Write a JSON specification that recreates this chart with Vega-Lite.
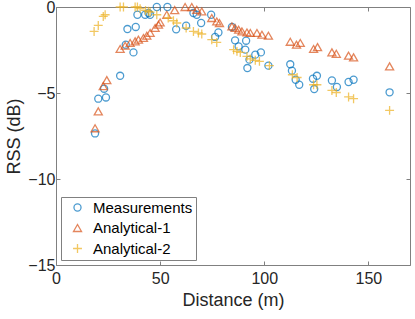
{
  "$schema": "https://vega.github.io/schema/vega-lite/v6.json",
  "width": 354,
  "height": 258,
  "autosize": "none",
  "padding": {"left": 56, "top": 7, "right": 5, "bottom": 54},
  "background": "white",
  "config": {
    "view": {"stroke": null},
    "font": "Liberation Sans",
    "axis": {
      "domainColor": "#808080",
      "tickColor": "#808080",
      "labelColor": "#262626",
      "titleColor": "#262626",
      "labelFont": "Liberation Sans",
      "titleFont": "Liberation Sans",
      "labelFontSize": 16,
      "titleFontSize": 18,
      "titleFontWeight": "normal",
      "grid": false,
      "tickSize": -4
    }
  },
  "data": {
    "values": [
      {"series": "Measurements", "d": 18.75, "rss": -7.35},
      {"series": "Measurements", "d": 20.3, "rss": -5.33},
      {"series": "Measurements", "d": 23.1, "rss": -4.75},
      {"series": "Measurements", "d": 24.0, "rss": -5.26},
      {"series": "Measurements", "d": 30.8, "rss": -4.0},
      {"series": "Measurements", "d": 33.5, "rss": -2.19},
      {"series": "Measurements", "d": 34.3, "rss": -1.28},
      {"series": "Measurements", "d": 37.2, "rss": -2.64},
      {"series": "Measurements", "d": 38.3, "rss": -1.16},
      {"series": "Measurements", "d": 39.1, "rss": -0.45},
      {"series": "Measurements", "d": 42.8, "rss": -0.45},
      {"series": "Measurements", "d": 44.4, "rss": -0.35},
      {"series": "Measurements", "d": 45.2, "rss": -0.45},
      {"series": "Measurements", "d": 48.4, "rss": 0.0},
      {"series": "Measurements", "d": 53.5, "rss": 0.0},
      {"series": "Measurements", "d": 57.7, "rss": -1.3},
      {"series": "Measurements", "d": 62.5, "rss": -1.09},
      {"series": "Measurements", "d": 66.0, "rss": -0.35},
      {"series": "Measurements", "d": 67.6, "rss": -0.45},
      {"series": "Measurements", "d": 69.7, "rss": -0.93},
      {"series": "Measurements", "d": 74.5, "rss": -0.45},
      {"series": "Measurements", "d": 76.4, "rss": -1.74},
      {"series": "Measurements", "d": 78.0, "rss": -1.48},
      {"series": "Measurements", "d": 84.5, "rss": -1.16},
      {"series": "Measurements", "d": 86.0, "rss": -1.94},
      {"series": "Measurements", "d": 87.7, "rss": -2.29},
      {"series": "Measurements", "d": 90.9, "rss": -2.48},
      {"series": "Measurements", "d": 91.3, "rss": -1.96},
      {"series": "Measurements", "d": 91.9, "rss": -3.55},
      {"series": "Measurements", "d": 92.9, "rss": -3.06},
      {"series": "Measurements", "d": 95.7, "rss": -2.77},
      {"series": "Measurements", "d": 98.4, "rss": -2.64},
      {"series": "Measurements", "d": 102.0, "rss": -3.41},
      {"series": "Measurements", "d": 112.5, "rss": -3.33},
      {"series": "Measurements", "d": 113.3, "rss": -3.7},
      {"series": "Measurements", "d": 115.1, "rss": -4.23},
      {"series": "Measurements", "d": 116.8, "rss": -4.52},
      {"series": "Measurements", "d": 123.4, "rss": -4.17},
      {"series": "Measurements", "d": 124.0, "rss": -4.77},
      {"series": "Measurements", "d": 125.3, "rss": -4.0},
      {"series": "Measurements", "d": 132.5, "rss": -4.27},
      {"series": "Measurements", "d": 134.9, "rss": -4.65},
      {"series": "Measurements", "d": 140.5, "rss": -4.36},
      {"series": "Measurements", "d": 142.9, "rss": -4.23},
      {"series": "Measurements", "d": 160.2, "rss": -4.96},
      {"series": "Analytical-1", "d": 18.75, "rss": -7.05},
      {"series": "Analytical-1", "d": 20.3, "rss": -6.07},
      {"series": "Analytical-1", "d": 22.7, "rss": -4.6},
      {"series": "Analytical-1", "d": 24.4, "rss": -4.25},
      {"series": "Analytical-1", "d": 30.8, "rss": -2.44},
      {"series": "Analytical-1", "d": 33.2, "rss": -2.25},
      {"series": "Analytical-1", "d": 35.6, "rss": -2.09},
      {"series": "Analytical-1", "d": 38.0, "rss": -2.0},
      {"series": "Analytical-1", "d": 39.6, "rss": -1.9},
      {"series": "Analytical-1", "d": 42.0, "rss": -1.8},
      {"series": "Analytical-1", "d": 43.6, "rss": -1.67},
      {"series": "Analytical-1", "d": 45.2, "rss": -1.51},
      {"series": "Analytical-1", "d": 47.6, "rss": -1.22},
      {"series": "Analytical-1", "d": 49.2, "rss": -1.03},
      {"series": "Analytical-1", "d": 50.0, "rss": -0.9},
      {"series": "Analytical-1", "d": 53.2, "rss": -0.45},
      {"series": "Analytical-1", "d": 57.0, "rss": -0.18},
      {"series": "Analytical-1", "d": 62.0, "rss": 0.0},
      {"series": "Analytical-1", "d": 65.2, "rss": 0.0},
      {"series": "Analytical-1", "d": 67.6, "rss": -0.16},
      {"series": "Analytical-1", "d": 70.0, "rss": -0.26},
      {"series": "Analytical-1", "d": 74.8, "rss": -0.64},
      {"series": "Analytical-1", "d": 77.2, "rss": -0.84},
      {"series": "Analytical-1", "d": 78.5, "rss": -0.93},
      {"series": "Analytical-1", "d": 84.5, "rss": -1.13},
      {"series": "Analytical-1", "d": 86.0, "rss": -1.22},
      {"series": "Analytical-1", "d": 87.7, "rss": -1.32},
      {"series": "Analytical-1", "d": 89.3, "rss": -1.42},
      {"series": "Analytical-1", "d": 91.7, "rss": -1.48},
      {"series": "Analytical-1", "d": 93.3, "rss": -1.51},
      {"series": "Analytical-1", "d": 96.5, "rss": -1.51},
      {"series": "Analytical-1", "d": 98.9, "rss": -1.61},
      {"series": "Analytical-1", "d": 102.0, "rss": -1.67},
      {"series": "Analytical-1", "d": 112.5, "rss": -2.02},
      {"series": "Analytical-1", "d": 115.5, "rss": -2.19},
      {"series": "Analytical-1", "d": 117.3, "rss": -2.09},
      {"series": "Analytical-1", "d": 123.7, "rss": -2.44},
      {"series": "Analytical-1", "d": 125.6, "rss": -2.33},
      {"series": "Analytical-1", "d": 132.5, "rss": -2.64},
      {"series": "Analytical-1", "d": 134.6, "rss": -2.72},
      {"series": "Analytical-1", "d": 140.5, "rss": -2.83},
      {"series": "Analytical-1", "d": 142.9, "rss": -2.93},
      {"series": "Analytical-1", "d": 160.2, "rss": -3.45},
      {"series": "Analytical-2", "d": 18.3, "rss": -1.42},
      {"series": "Analytical-2", "d": 20.3, "rss": -1.07},
      {"series": "Analytical-2", "d": 22.7, "rss": -0.55},
      {"series": "Analytical-2", "d": 23.6, "rss": -0.45},
      {"series": "Analytical-2", "d": 30.8, "rss": 0.0},
      {"series": "Analytical-2", "d": 32.4, "rss": 0.0},
      {"series": "Analytical-2", "d": 38.0, "rss": 0.0},
      {"series": "Analytical-2", "d": 39.1, "rss": 0.0},
      {"series": "Analytical-2", "d": 40.4, "rss": -0.1},
      {"series": "Analytical-2", "d": 43.0, "rss": -0.2},
      {"series": "Analytical-2", "d": 44.4, "rss": -0.25},
      {"series": "Analytical-2", "d": 45.2, "rss": -0.3},
      {"series": "Analytical-2", "d": 48.4, "rss": -0.45},
      {"series": "Analytical-2", "d": 53.9, "rss": -0.64},
      {"series": "Analytical-2", "d": 56.4, "rss": -0.8},
      {"series": "Analytical-2", "d": 58.0, "rss": -0.93},
      {"series": "Analytical-2", "d": 62.5, "rss": -1.22},
      {"series": "Analytical-2", "d": 66.0, "rss": -1.42},
      {"series": "Analytical-2", "d": 68.4, "rss": -1.51},
      {"series": "Analytical-2", "d": 70.0, "rss": -1.57},
      {"series": "Analytical-2", "d": 74.8, "rss": -1.9},
      {"series": "Analytical-2", "d": 77.2, "rss": -2.06},
      {"series": "Analytical-2", "d": 85.3, "rss": -2.48},
      {"series": "Analytical-2", "d": 86.9, "rss": -2.58},
      {"series": "Analytical-2", "d": 88.5, "rss": -2.64},
      {"series": "Analytical-2", "d": 91.7, "rss": -2.87},
      {"series": "Analytical-2", "d": 93.3, "rss": -3.02},
      {"series": "Analytical-2", "d": 95.7, "rss": -3.1},
      {"series": "Analytical-2", "d": 97.7, "rss": -3.16},
      {"series": "Analytical-2", "d": 102.5, "rss": -3.41},
      {"series": "Analytical-2", "d": 113.5, "rss": -3.94},
      {"series": "Analytical-2", "d": 115.8, "rss": -4.1},
      {"series": "Analytical-2", "d": 123.7, "rss": -4.52},
      {"series": "Analytical-2", "d": 125.3, "rss": -4.52},
      {"series": "Analytical-2", "d": 132.5, "rss": -4.85},
      {"series": "Analytical-2", "d": 134.6, "rss": -4.97},
      {"series": "Analytical-2", "d": 140.5, "rss": -5.23},
      {"series": "Analytical-2", "d": 142.9, "rss": -5.33},
      {"series": "Analytical-2", "d": 160.2, "rss": -6.01}
    ]
  },
  "layer": [
    {
      "mark": {"type": "point", "filled": false, "strokeWidth": 1.3},
      "encoding": {
        "x": {
          "field": "d", "type": "quantitative",
          "scale": {"domain": [0, 170], "nice": false, "zero": false},
          "axis": {"orient": "bottom", "values": [0, 50, 100, 150], "title": "Distance (m)", "labelPadding": 9, "titlePadding": 5, "labelFlush": false}
        },
        "y": {
          "field": "rss", "type": "quantitative",
          "scale": {"domain": [-15, 0], "nice": false, "zero": false},
          "axis": {"orient": "left", "values": [-15, -10, -5, 0], "title": "RSS (dB)", "labelPadding": 5, "titlePadding": 4, "labelFlush": false}
        },
        "color": {
          "field": "series", "type": "nominal",
          "scale": {"domain": ["Measurements", "Analytical-1", "Analytical-2"], "range": ["#0072BD", "#D95319", "#EDB120"]},
          "legend": {
            "title": null, "orient": "bottom-left", "offset": 5,
            "fillColor": "white", "strokeColor": "#808080", "padding": 3,
            "labelFontSize": 15, "labelFont": "Liberation Sans", "labelColor": "#000000",
            "symbolSize": 40, "symbolStrokeWidth": 1.3, "symbolOffset": 6, "labelOffset": 8, "rowPadding": 4.5
          }
        },
        "shape": {
          "field": "series", "type": "nominal",
          "scale": {"domain": ["Measurements", "Analytical-1", "Analytical-2"], "range": ["circle", "triangle-up", "M-1,0H1M0,-1V1"]}
        },
        "size": {
          "field": "series", "type": "nominal",
          "scale": {"domain": ["Measurements", "Analytical-1", "Analytical-2"], "range": [50, 80, 50]},
          "legend": null
        }
      }
    },
    {
      "mark": {"type": "point", "opacity": 0},
      "encoding": {
        "x": {
          "field": "d", "type": "quantitative",
          "scale": {"domain": [0, 170], "nice": false, "zero": false},
          "axis": {"orient": "top", "values": [0, 50, 100, 150], "labels": false, "title": null}
        },
        "y": {
          "field": "rss", "type": "quantitative",
          "scale": {"domain": [-15, 0], "nice": false, "zero": false},
          "axis": {"orient": "right", "values": [-15, -10, -5, 0], "labels": false, "title": null}
        }
      }
    }
  ],
  "resolve": {"axis": {"x": "independent", "y": "independent"}}
}
